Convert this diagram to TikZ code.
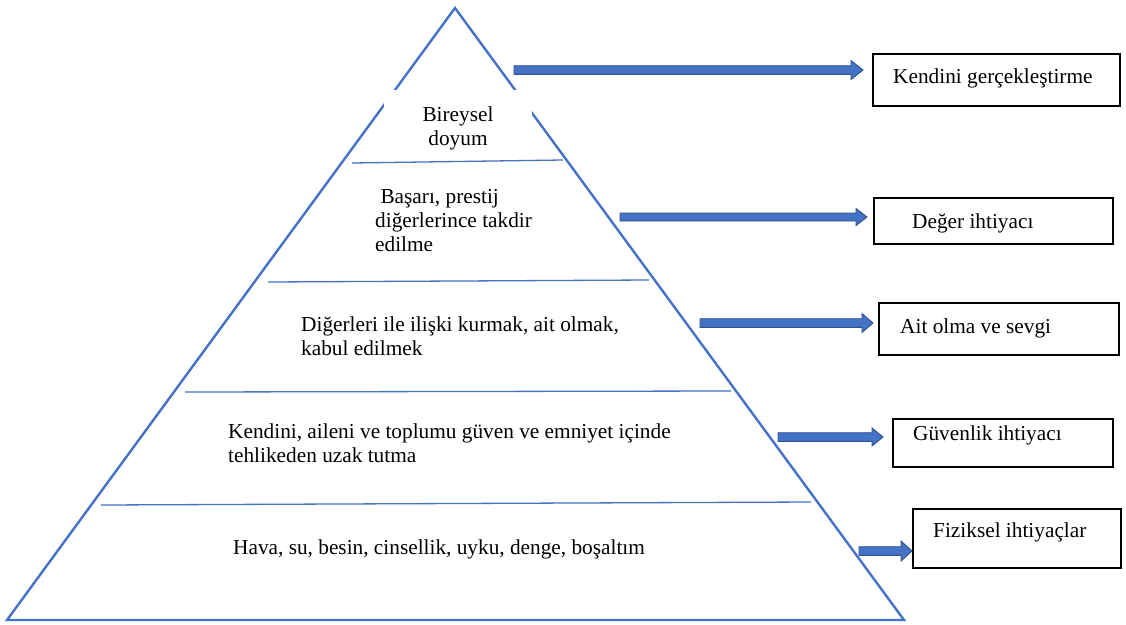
\documentclass[tikz,border=0pt]{standalone}
\usepackage{fontspec}
\setmainfont{Liberation Serif}
\usetikzlibrary{calc}
\definecolor{triblue}{HTML}{4472C4}
\definecolor{arrfill}{HTML}{4472C4}
\definecolor{arrline}{HTML}{2F528F}
\newcommand\blockarrow[5]{%
  \filldraw[arrowshape] let \p1=(#1), \p2=(#2) in
    (\x1,\y1+#3) -- (\x2-#5,\y1+#3) -- (\x2-#5,\y1+#4) -- (\x2,\y1)
    -- (\x2-#5,\y1-#4) -- (\x2-#5,\y1-#3) -- (\x1,\y1-#3) -- cycle;}
\begin{document}
\begin{tikzpicture}[x=1pt,y=-1pt,
  triline/.style={draw=triblue, line width=2.4pt, line join=miter},
  levelline/.style={draw=triblue, line width=1.3pt},
  arrowshape/.style={fill=arrfill, draw=arrline, line width=0.9pt, line join=miter},
  txt/.style={font=\fontsize{21.3}{24}\selectfont, inner sep=0pt, align=left, anchor=base west},
  needbox/.style={draw=black, line width=1.1pt, inner sep=0pt}]
\useasboundingbox (0,0) rectangle (1126,624);
\fill[white] (0,0) rectangle (1126,624);

% pyramid
\draw[triline] (455,8) -- (904,620) -- (7,620) -- cycle;
\node[fill=white, inner sep=0pt, minimum width=148pt, minimum height=68pt] (topcover) at (458,124) {};
\draw[levelline] (352,163) -- (563,160);
\draw[levelline] (268,282) -- (649,280);
\draw[levelline] (185,392) -- (731,391);
\draw[levelline] (101,505) -- (811,502);

% level texts (base anchor = baseline of the last line)
\node[txt, align=center, anchor=base] (t1) at (458,145) {Bireysel\\doyum};
\node[txt] (t2) at (375,251) {\ Başarı, prestij\\diğerlerince takdir\\edilme};
\node[txt] (t3) at (301,355) {Diğerleri ile ilişki kurmak, ait olmak,\\kabul edilmek};
\node[txt] (t4) at (228,462) {Kendini, aileni ve toplumu güven ve emniyet içinde\\tehlikeden uzak tutma};
\node[txt] (t5) at (233,554) {Hava, su, besin, cinsellik, uyku, denge, boşaltım};

% boxes
\draw[needbox] (873,54) rectangle (1120,106);
\draw[needbox] (874,198) rectangle (1113,244);
\draw[needbox] (879,303) rectangle (1119,355);
\draw[needbox] (893,419) rectangle (1113,467);
\draw[needbox] (913,509) rectangle (1121,568);
\node[txt] (b1) at (893,83) {Kendini gerçekleştirme};
\node[txt] (b2) at (912,228) {Değer ihtiyacı};
\node[txt] (b3) at (900,333) {Ait olma ve sevgi};
\node[txt] (b4) at (913,440) {Güvenlik ihtiyacı};
\node[txt] (b5) at (933,537) {Fiziksel ihtiyaçlar};

% arrows
\coordinate (a1s) at (514,70);  \coordinate (a1e) at (863,70);
\coordinate (a2s) at (620,217); \coordinate (a2e) at (867,217);
\coordinate (a3s) at (700,323); \coordinate (a3e) at (873,323);
\coordinate (a4s) at (778,437); \coordinate (a4e) at (883,437);
\coordinate (a5s) at (859,551); \coordinate (a5e) at (912,551);
\blockarrow{a1s}{a1e}{4.3}{9.5}{12}
\blockarrow{a2s}{a2e}{4}{8.5}{11}
\blockarrow{a3s}{a3e}{4.3}{9.5}{11}
\blockarrow{a4s}{a4e}{4.3}{9}{11}
\blockarrow{a5s}{a5e}{4.3}{10}{11}
\end{tikzpicture}
\end{document}
